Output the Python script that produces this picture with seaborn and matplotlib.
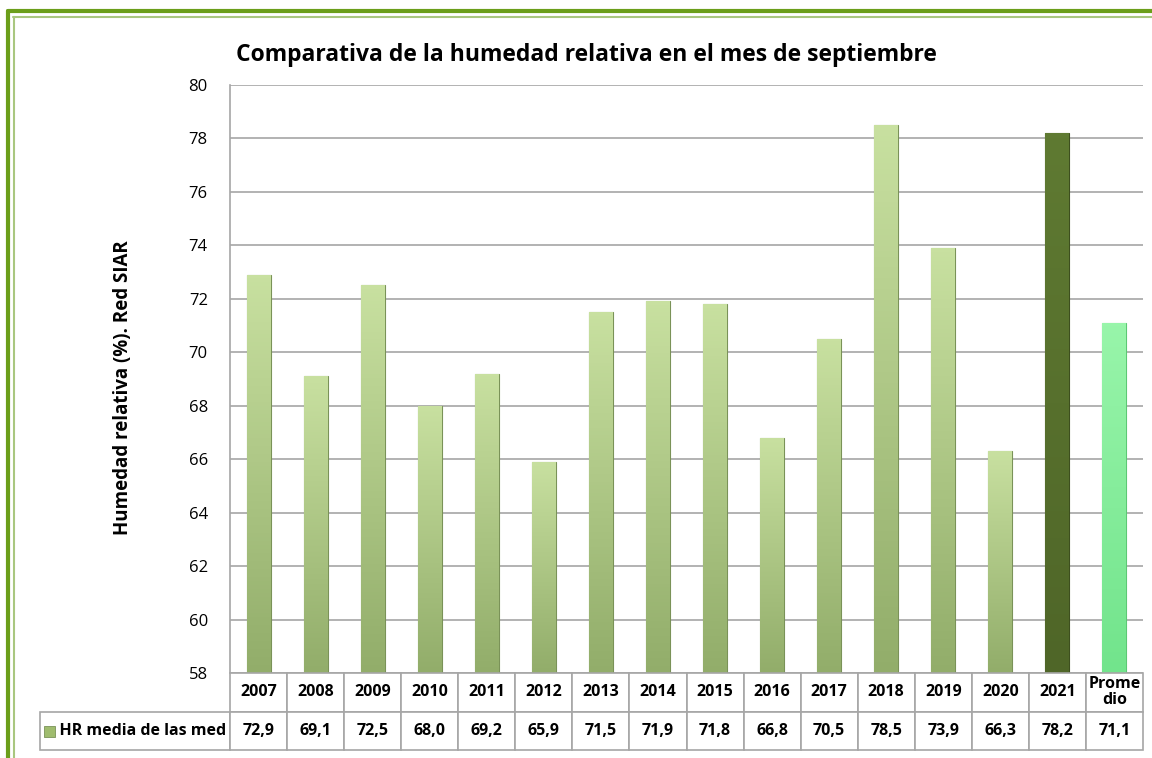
import numpy as np
import pandas as pd
import matplotlib
matplotlib.use("Agg")
import matplotlib.pyplot as plt
import seaborn as sns
from matplotlib.patches import Rectangle
from matplotlib.lines import Line2D
from matplotlib.colors import LinearSegmentedColormap

years = ["2007", "2008", "2009", "2010", "2011", "2012", "2013", "2014",
         "2015", "2016", "2017", "2018", "2019", "2020", "2021", "Promedio"]
col_labels = ["2007", "2008", "2009", "2010", "2011", "2012", "2013", "2014",
              "2015", "2016", "2017", "2018", "2019", "2020", "2021", "Prome\ndio"]
hr_values = [72.9, 69.1, 72.5, 68.0, 69.2, 65.9, 71.5, 71.9,
             71.8, 66.8, 70.5, 78.5, 73.9, 66.3, 78.2, 71.1]
series_name = "HR media de las med"
title = "Comparativa de la humedad relativa en el mes de septiembre"
ylabel = "Humedad relativa (%). Red SIAR"

sns.set_theme(style="white")
plt.rcParams["font.family"] = ["Open Sans", "DejaVu Sans"]
plt.rcParams["text.color"] = "black"
plt.rcParams["axes.labelcolor"] = "black"
plt.rcParams["ytick.color"] = "black"

df = pd.DataFrame({"year": years, "hr": hr_values})

fig = plt.figure(figsize=(11.52, 7.58), dpi=100)
ax = fig.add_axes([230 / 1152, 1 - 673 / 758, 913 / 1152, 588 / 758])

sns.barplot(data=df, x="year", y="hr", ax=ax, width=0.42,
            color="#b5cf88", saturation=1, zorder=3)

# gradients (top light -> bottom darker), like the Excel bevel fill
for i, p in enumerate(ax.patches):
    if years[i] == "2021":
        c_top, c_bot, edge = "#5f7a32", "#4f6628", "#3d4f1e"
    elif years[i] == "Promedio":
        c_top, c_bot, edge = "#98f5aa", "#72e48c", "#5cc874"
    else:
        c_top, c_bot, edge = "#c8e0a0", "#92ad6a", "#7a9258"
    p.set_facecolor(c_bot)
    p.set_edgecolor(edge)
    p.set_linewidth(0.8)
    cmap = LinearSegmentedColormap.from_list("g%d" % i, [c_bot, c_top])
    x0, w = p.get_x(), p.get_width()
    y1 = p.get_height()
    im = ax.imshow(np.linspace(0, 1, 100).reshape(-1, 1), cmap=cmap,
                   extent=[x0, x0 + w, 58, y1], origin="lower",
                   aspect="auto", zorder=3.5)
    im.set_clip_path(p)

ax.set_xlim(-0.5, len(years) - 0.5)
ax.set_ylim(58, 80)
ax.set_yticks(range(58, 81, 2))
ax.tick_params(axis="y", labelsize=12, pad=16, length=0)
ax.set_xticks([])
ax.set_xlabel("")
ax.set_ylabel(ylabel, fontsize=13.5, fontweight="bold", va="center")
ax.yaxis.set_label_coords(-107 / 913, (673 - 388) / 588)
ax.yaxis.grid(True, color="#a6a6a6", linewidth=1.2, zorder=0)
for s in ["top", "right", "bottom"]:
    ax.spines[s].set_visible(False)
ax.spines["left"].set_color("#a6a6a6")
ax.spines["left"].set_linewidth(1.2)

# data table below the plot
cell_text = [col_labels, [f"{v:.1f}".replace(".", ",") for v in hr_values]]
lab_w = 180 / 913
tab_h = 77 / 588
tbl = ax.table(cellText=cell_text, rowLabels=["", "    " + series_name],
               cellLoc="center", rowLoc="left",
               bbox=[0, -tab_h, 1, tab_h])
tbl.auto_set_font_size(False)
for (r, c), cell in tbl.get_celld().items():
    cell.set_edgecolor("#a6a6a6")
    cell.set_linewidth(1.2)
    cell.get_text().set_fontweight("bold")
    cell.get_text().set_fontsize(11.5)
    cell.get_text().set_color("black")
    if c == -1:
        cell.set_width(lab_w)
        cell.PAD = 0.02
        if r == 0:
            cell.visible_edges = ""
    if r == 0 and c == len(years) - 1:
        cell.get_text().set_linespacing(1.0)
tbl.set_zorder(5)

# legend key square in the label cell
fig.patches.append(Rectangle((44 / 1152, 1 - 737 / 758), 11 / 1152, 11 / 758,
                             transform=fig.transFigure, facecolor="#9fbc6e",
                             edgecolor="#7a9258", linewidth=0.6))

fig.text(586 / 1152, 1 - 55 / 758, title, ha="center", va="center",
         fontsize=16.5, fontweight="bold")

# green frame (top and left)
fig.lines.append(Line2D([8 / 1152, 1], [1 - 11 / 758, 1 - 11 / 758],
                        transform=fig.transFigure, color="#6b9e1a", linewidth=3))
fig.lines.append(Line2D([8 / 1152, 8 / 1152], [0, 1 - 11 / 758],
                        transform=fig.transFigure, color="#6b9e1a", linewidth=3))
fig.lines.append(Line2D([13 / 1152, 1], [1 - 16.5 / 758, 1 - 16.5 / 758],
                        transform=fig.transFigure, color="#a9c77f", linewidth=1.5))
fig.lines.append(Line2D([13.5 / 1152, 13.5 / 1152], [0, 1 - 16.5 / 758],
                        transform=fig.transFigure, color="#a9c77f", linewidth=1.5))

fig.savefig("out.png", dpi=100)
